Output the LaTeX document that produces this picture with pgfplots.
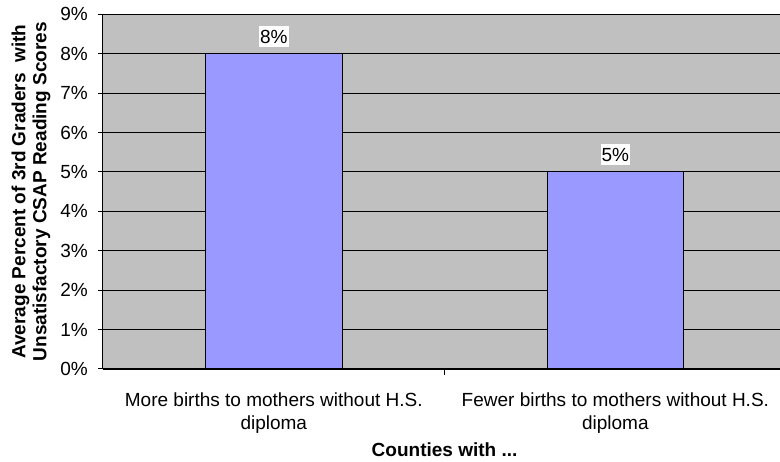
\documentclass[border=0pt]{standalone}
\usepackage{pgfplots}
\pgfplotsset{compat=1.18}
\usepackage{fontspec}
\setmainfont{Liberation Sans}
\definecolor{plotgray}{HTML}{C0C0C0}
\definecolor{barblue}{HTML}{9999FF}

\begin{document}
\fontsize{19pt}{23pt}\selectfont
\begin{tikzpicture}
  \begin{axis}[
    scale only axis,
    width=677pt,
    height=354.7pt,
    xmin=-0.5, xmax=1.482,
    ymin=0, ymax=9,
    enlargelimits=false,
    axis lines*=left,
    axis line style={black, line width=1pt},
    axis background/.style={fill=plotgray},
    ybar,
    bar width=0.4,
    xtick={0,1},
    xticklabels={More births to mothers without H.S.\\diploma, Fewer births to mothers without H.S.\\diploma},
    major x tick style={draw=none},
    minor xtick={0.5},
    minor tick length=6pt,
    major tick length=5pt,
    tick align=outside,
    tick style={black, line width=1pt},
    ytick={0,1,...,9},
    yticklabel={\pgfmathprintnumber{\tick}\%},
    /pgf/number format/assume math mode=true,
    ymajorgrids=true,
    grid style={black, line width=0.9pt},
    ticklabel style={font=\fontsize{19pt}{23pt}\selectfont},
    xticklabel style={align=center, inner sep=0pt, yshift=-19pt},
    yticklabel style={inner sep=0pt, xshift=-10pt},
    xlabel={Counties with ...},
    xlabel style={at={(axis cs:0.5,0)}, anchor=north, inner sep=0pt, yshift=-74pt,
      font=\bfseries\fontsize{19pt}{23pt}\selectfont},
    ylabel={Average Percent of 3rd Graders\ \ with\\Unsatisfactory CSAP Reading Scores},
    every axis y label/.style={at={(axis description cs:0,0.5)}, xshift=-72pt, rotate=90,
      anchor=center, align=center, inner sep=0pt,
      font=\bfseries\fontsize{19pt}{21pt}\selectfont},
    nodes near coords={\pgfmathprintnumber{\pgfplotspointmeta}\%},
    every node near coord/.append style={fill=white, inner xsep=1pt, inner ysep=4pt,
      yshift=6pt, font=\fontsize{19pt}{23pt}\selectfont},
  ]
    \addplot[draw=black, line width=1pt, fill=barblue] coordinates {(0,8) (1,5)};
  \end{axis}
  \pgfresetboundingbox
  \path ([shift={(-103pt,-93pt)}]current axis.south west) rectangle ([shift={(0pt,14.3pt)}]current axis.north east);
\end{tikzpicture}
\end{document}
